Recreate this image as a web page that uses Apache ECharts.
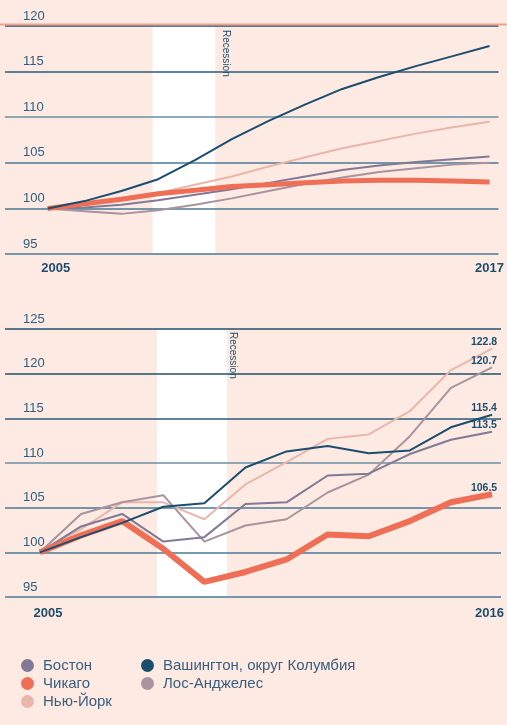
<!DOCTYPE html>
<html><head><meta charset="utf-8">
<script src="https://cdn.jsdelivr.net/npm/echarts@6/dist/echarts.min.js"></script>
<style>html,body{margin:0;padding:0;background:#fdeae3;}#c{width:507px;height:725px;}</style>
</head><body><div id="c"></div>
<script>
// ---- data ----
const topYears = [2005,2006,2007,2008,2009,2010,2011,2012,2013,2014,2015,2016,2017];
const topBoston     = [100,100.1,100.4,100.9,101.5,102.1,102.8,103.5,104.2,104.7,105.1,105.4,105.7];
const topChicago    = [100,100.5,101.0,101.6,102.0,102.4,102.6,102.8,103.0,103.1,103.1,103.0,102.9];
const topNewYork    = [100,100.4,101.0,101.7,102.6,103.5,104.6,105.6,106.6,107.4,108.2,108.9,109.5];
const topWashington = [100,100.8,101.9,103.2,105.3,107.6,109.6,111.4,113.1,114.4,115.6,116.7,117.8];
const topLosAngeles = [100,99.7,99.4,99.8,100.4,101.1,101.9,102.7,103.4,104.0,104.4,104.8,105.0];

const botYears = [2005,2006,2007,2008,2009,2010,2011,2012,2013,2014,2015,2016];
const botBoston     = [100,102.9,104.3,101.2,101.7,105.4,105.6,108.6,108.8,111.0,112.6,113.5];
const botChicago    = [100,101.9,103.5,100.4,96.7,97.8,99.2,102.0,101.8,103.5,105.6,106.5];
const botNewYork    = [100,102.6,105.6,105.6,103.7,107.6,110.1,112.7,113.2,115.8,120.4,122.8];
const botWashington = [100,101.7,103.3,105.1,105.5,109.5,111.3,111.9,111.1,111.4,114.0,115.4];
const botLosAngeles = [100,104.3,105.6,106.4,101.2,103.0,103.7,106.7,108.7,113.0,118.4,120.7];

const recession = [2007.85, 2009.55];
const topTicks = [2005, 2017];
const botTicks = [2005, 2016];

const names = {boston:'Бостон', chicago:'Чикаго', ny:'Нью-Йорк', wash:'Вашингтон, округ Колумбия', la:'Лос-Анджелес'};
const colors = {boston:'#817996', chicago:'#ef6e56', ny:'#eab6ab', wash:'#1a4d6e', la:'#a8939f'};
const FONT = '"Liberation Sans", Arial, sans-serif';
const NAVY = '#1d4e6e';

function pairs(years, vals, endLabel){
  return years.map((y,i)=>{
    const p = {value:[y, vals[i]]};
    if (endLabel && i === years.length-1) p.label = {show:true};
    return p;
  });
}

function mkSeries(key, idx, years, vals, width, endLabel, withArea){
  const s = {
    name: names[key], type:'line', xAxisIndex: idx, yAxisIndex: idx,
    data: pairs(years, vals, endLabel), symbol:'circle', symbolSize:0, showSymbol:true, showAllSymbol:true, silent:true,
    lineStyle:{color:colors[key], width:width}, itemStyle:{color:colors[key]},
    label:{show:false, position:'top', distance:1, color:NAVY,
      fontFamily:FONT, fontWeight:'bold', fontSize:10.5,
      formatter:(p)=>p.value[1].toFixed(1)},
    labelLayout:{hideOverlap:false, dx:-8},
    z: 3
  };
  if (withArea){
    s.markArea = {silent:true, itemStyle:{color:'#ffffff'}, data:[[{xAxis:recession[0]},{xAxis:recession[1]}]], z:0};
  }
  return s;
}

const gridLineColors = ['#4a7894','#4a7894','#4a7894','#6a8fa6','#2a5a7a','#1f4f6f','#1f4f6f'];

function yAx(idx, min, max){
  return {type:'value', gridIndex:idx, min:min, max:max, interval:5,
    axisLine:{show:false}, axisTick:{show:false},
    axisLabel:{inside:true, margin:18, verticalAlign:'bottom', lineHeight:20,
      color:'#2c5f80', fontFamily:FONT, fontSize:13},
    splitLine:{show:true, lineStyle:{color:gridLineColors, width:1.5}}, z:1};
}
function xAx(idx, min, max, ticks, margin){
  return {type:'value', gridIndex:idx, min:min, max:max,
    axisLine:{show:false}, axisTick:{show:false}, splitLine:{show:false},
    axisLabel:{show:true, customValues:ticks, margin:margin,
      formatter:(v)=> v===ticks[0] ? '{l|'+v+'}' : '{r|'+v+'}',
      rich:{l:{padding:[0,0,0,16], color:NAVY, fontWeight:'bold', fontSize:13, fontFamily:FONT},
            r:{padding:[0,idx===1?5:0,0,0], color:NAVY, fontWeight:'bold', fontSize:13, fontFamily:FONT}},
      color:NAVY, fontFamily:FONT, fontWeight:'bold', fontSize:13}};
}

const legendText = {color:'#3a5f7e', fontFamily:FONT, fontSize:15, padding:[0,0,0,4]};
const option = {
  backgroundColor:'#fdeae3',
  animation:false,
  grid:[
    {left:5, right:5, top:26, height:228},
    {left:5, right:5, top:329, height:268}
  ],
  xAxis:[ xAx(0, 2003.8404, 2017.2427, topTicks, 8), xAx(1, 2004.150, 2016.2186, botTicks, 10) ],
  yAxis:[ yAx(0, 95, 120), yAx(1, 95, 125) ],
  legend:[
    {orient:'vertical', left:16, top:653, icon:'circle', itemWidth:13, itemHeight:13, itemGap:3,
     selectedMode:false, data:[names.boston, names.chicago, names.ny], textStyle:legendText},
    {orient:'vertical', left:136, top:653, icon:'circle', itemWidth:13, itemHeight:13, itemGap:3,
     selectedMode:false, data:[names.wash, names.la], textStyle:legendText}
  ],
  series:[
    mkSeries('ny',0,topYears,topNewYork,2,false,true),
    mkSeries('la',0,topYears,topLosAngeles,2,false,false),
    mkSeries('boston',0,topYears,topBoston,2,false,false),
    mkSeries('chicago',0,topYears,topChicago,5,false,false),
    mkSeries('wash',0,topYears,topWashington,2,false,false),
    mkSeries('ny',1,botYears,botNewYork,2,true,true),
    mkSeries('la',1,botYears,botLosAngeles,2,true,false),
    mkSeries('boston',1,botYears,botBoston,2,true,false),
    mkSeries('chicago',1,botYears,botChicago,6,true,false),
    mkSeries('wash',1,botYears,botWashington,2,true,false)
  ],
  graphic:[
    {type:'rect', left:0, top:23.5, shape:{width:507, height:2}, style:{fill:'#f0a190'}, z:10},
    {type:'text', x:231, y:30, rotation:-Math.PI/2, style:{text:'Recession', fill:NAVY, font:'10px '+FONT, align:'left', verticalAlign:'top'}, z:10},
    {type:'text', x:238, y:332, rotation:-Math.PI/2, style:{text:'Recession', fill:NAVY, font:'10px '+FONT, align:'left', verticalAlign:'top'}, z:10}
  ]
};
const chart = echarts.init(document.getElementById('c'), null, {renderer:'canvas'});
chart.setOption(option);
</script></body></html>
